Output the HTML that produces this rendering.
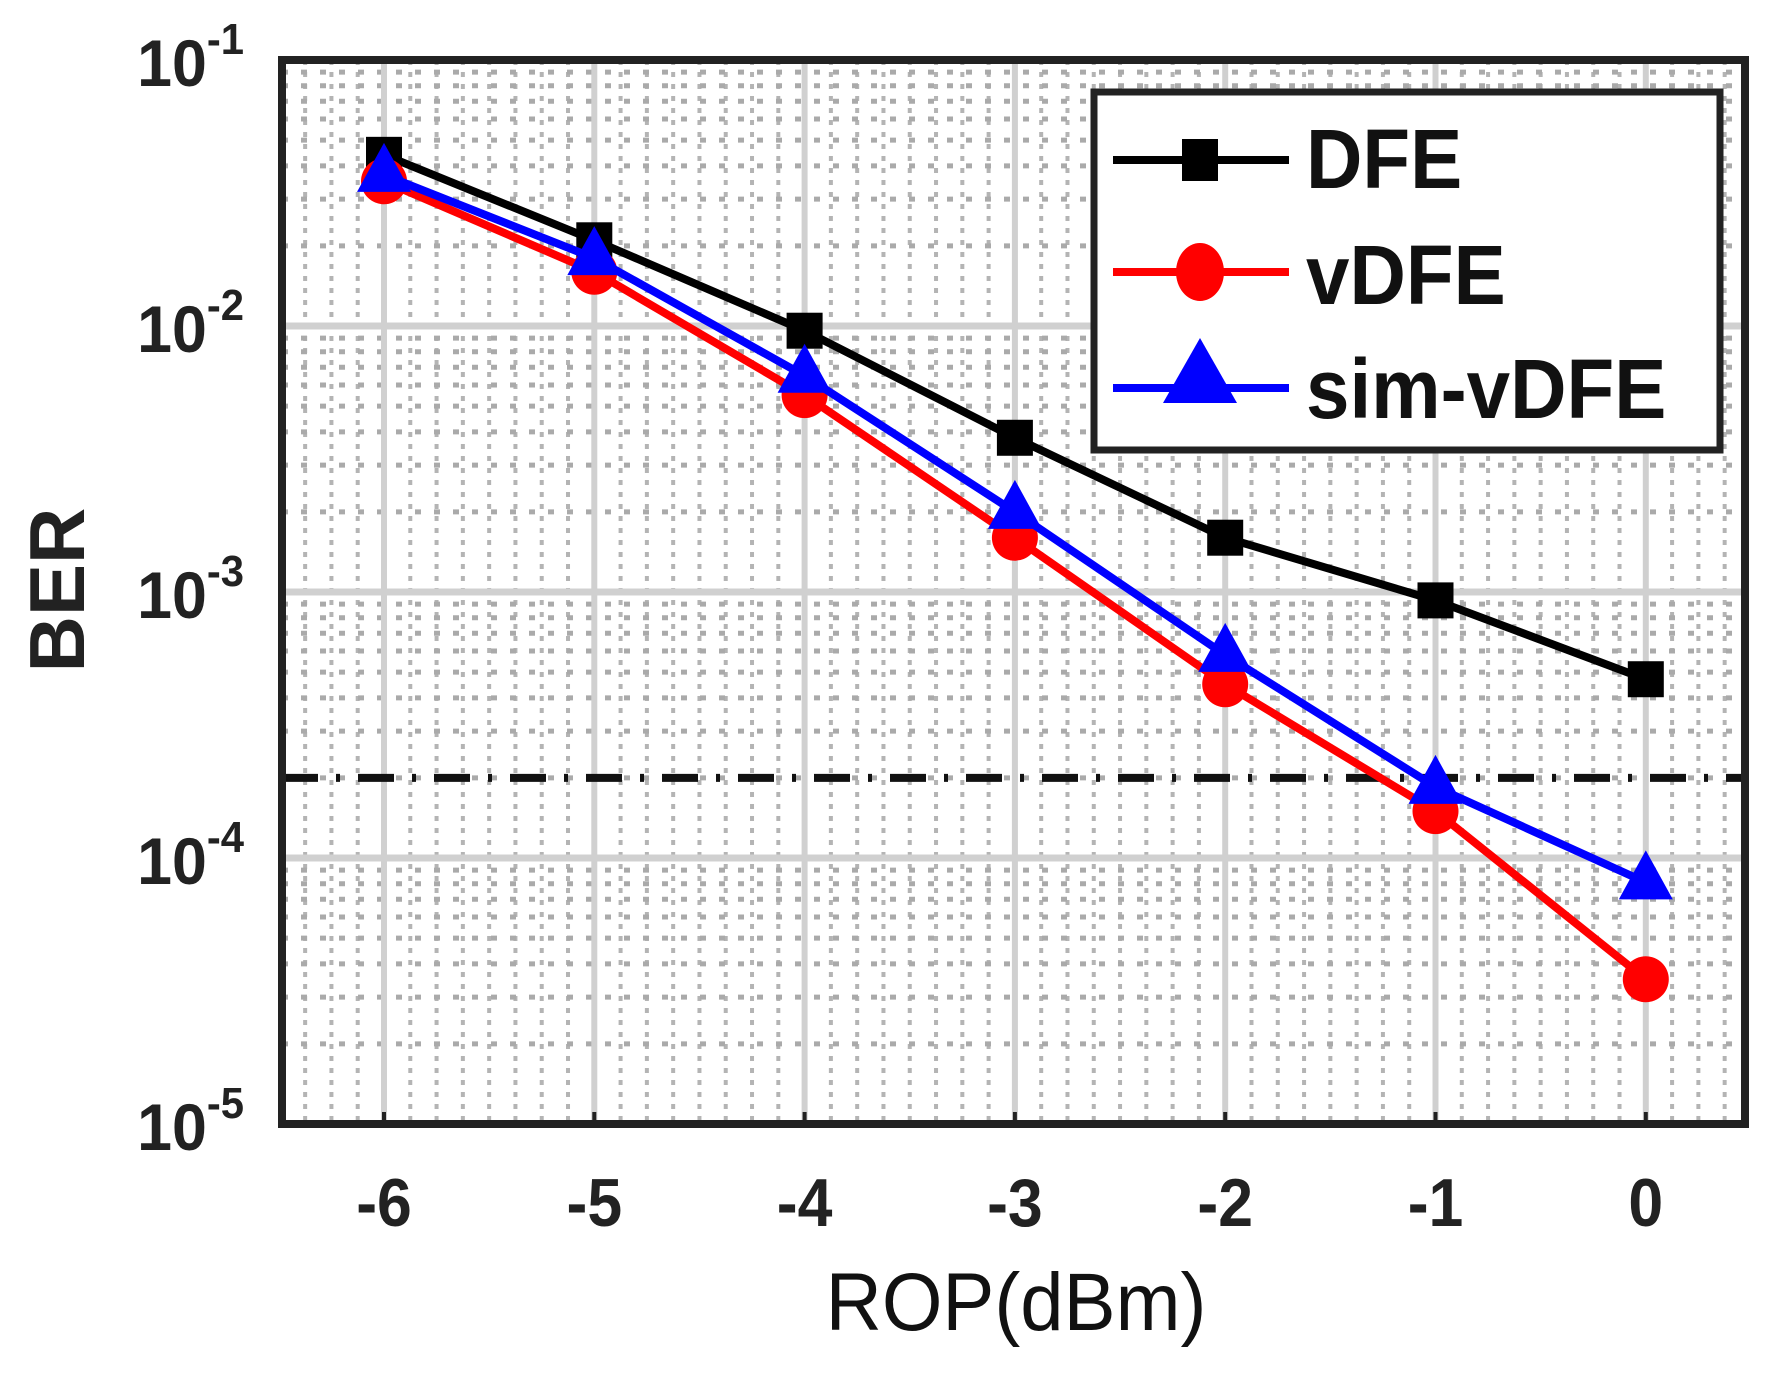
<!DOCTYPE html>
<html><head><meta charset="utf-8"><style>
html,body{margin:0;padding:0;background:#fff;}
svg{display:block;}
text{font-family:"Liberation Sans",Arial,sans-serif;}
</style></head><body>
<svg id="chart" width="1779" height="1373" viewBox="0 0 1779 1373" xmlns="http://www.w3.org/2000/svg">
<g id="grid"></g>
<g id="series"></g>
<rect x="282" y="60" width="1463" height="1064" fill="none" stroke="#222" stroke-width="8"/>
<g id="ticks"></g>
<text x="1016" y="1330" font-size="82" text-anchor="middle" fill="#111" transform="translate(1016,0) scale(0.95,1) translate(-1016,0)">ROP(dBm)</text>
<text x="0" y="0" font-size="78" font-weight="bold" text-anchor="middle" fill="#222" transform="translate(84,590) rotate(-90)">BER</text>
<g id="legend">
<rect x="1094" y="92" width="626" height="358" fill="#fff" stroke="#222" stroke-width="7"/>
</g>
</svg>
<script>
const xValues = [-6, -5, -4, -3, -2, -1, 0];
const dfeValues = [0.044, 0.021, 0.0096, 0.0038, 0.0016, 0.00093, 0.00047];
const vdfeValues = [0.035, 0.016, 0.0055, 0.0016, 0.00045, 0.00015, 0.000035];
const simValues = [0.037, 0.018, 0.0065, 0.0020, 0.00058, 0.000185, 0.000081];
const thresholdValue = 0.0002;
const xTickLabels = ["-6", "-5", "-4", "-3", "-2", "-1", "0"];
const yTickExps = [-1, -2, -3, -4, -5];

const X0 = 282, X1 = 1745, Y0 = 60, Y1 = 1124;
function xs(v){ return 384 + (v - (-6)) * 210.3; }
function ys(v){ return Y0 + (-1 - Math.log10(v)) * ((Y1 - Y0) / 4); }
const NS = "http://www.w3.org/2000/svg";
function mk(tag, attrs, parent){ const e = document.createElementNS(NS, tag); for (const k in attrs) e.setAttribute(k, attrs[k]); parent.appendChild(e); return e; }

const grid = document.getElementById('grid');
for (let u = -6.5; u <= 0.5; u += 0.125) {
  const x = xs(u);
  if (x <= X0 + 4 || x >= X1 - 4) continue;
  if (Math.abs(u - Math.round(u)) < 1e-6) continue;
  const l = mk('line', {x1: x, x2: x, y1: Y0, y2: Y1, stroke: '#b4b4b4', 'stroke-width': 4, 'stroke-dasharray': '5 7'}, grid);
  
  
}
for (let e = -5; e < -1; e++) {
  for (let m = 2; m <= 9; m++) {
    const y = ys(m * Math.pow(10, e));
    const l = mk('line', {x1: X0, x2: X1, y1: y, y2: y, stroke: '#aaaaaa', 'stroke-width': 5, 'stroke-dasharray': '6 13'}, grid);
    
    
  }
}
yTickExps.forEach(e => {
  const y = ys(Math.pow(10, e));
  const l = mk('line', {x1: X0, x2: X1, y1: y, y2: y, stroke: '#d0d0d0', 'stroke-width': 7}, grid);
  
  
});
xValues.forEach(v => {
  const x = xs(v);
  const l = mk('line', {x1: x, x2: x, y1: Y0, y2: Y1, stroke: '#d0d0d0', 'stroke-width': 6}, grid);
  
  
});

const ticks = document.getElementById('ticks');
xValues.forEach((v, i) => {
  const t = mk('text', {x: 0, y: 0, 'font-size': 68, 'font-weight': 'bold', 'text-anchor': 'middle', fill: '#222', transform: 'translate(' + xs(v) + ',1226) scale(0.92,1)'}, ticks);
  t.textContent = xTickLabels[i];
  
  
  const tk = mk('line', {x1: xs(v), x2: xs(v), y1: Y1, y2: Y1 - 12, stroke: '#222', 'stroke-width': 4}, ticks);
  
  
});
yTickExps.forEach(e => {
  const y = ys(Math.pow(10, e));
  const t = mk('text', {x: 0, y: 0, 'font-size': 66, 'font-weight': 'bold', 'text-anchor': 'end', fill: '#222', transform: 'translate(244,' + (y + 26) + ') scale(0.95,1)'}, ticks);
  
  
  const a = mk('tspan', {}, t); a.textContent = '10';
  const b = mk('tspan', {'font-size': 44, dy: -32}, t); b.textContent = String(e);
});

const series = document.getElementById('series');
const ty = ys(thresholdValue);
const th = mk('line', {x1: X0, x2: X1, y1: ty, y2: ty, stroke: '#111', 'stroke-width': 8, 'stroke-dasharray': '36 18 4 18'}, series);



function drawSeries(vals, color, name, marker){
  const pts = vals.map((v, i) => xs(xValues[i]) + ',' + ys(v)).join(' ');
  const pl = mk('polyline', {points: pts, fill: 'none', stroke: color, 'stroke-width': 8, 'stroke-linejoin': 'round'}, series);
  
  
  vals.forEach((v, i) => drawMarker(xs(xValues[i]), ys(v), color, marker, name + '-marker'));
}
function drawMarker(x, y, color, marker, name){
  let m;
  if (marker === 'square') m = mk('rect', {x: x - 18, y: y - 18, width: 36, height: 36, fill: color}, series);
  else if (marker === 'circle') m = mk('circle', {cx: x, cy: y, r: 23, fill: color}, series);
  else m = mk('polygon', {points: (x) + ',' + (y - 32) + ' ' + (x - 27) + ',' + (y + 17) + ' ' + (x + 27) + ',' + (y + 17), fill: color}, series);
  
  
  return m;
}
drawSeries(dfeValues, '#000', 'dfe', 'square');
drawSeries(vdfeValues, '#ff0000', 'vdfe', 'circle');
drawSeries(simValues, '#0000ff', 'sim-vdfe', 'triangle');

const legend = document.getElementById('legend');
const entries = [['DFE', '#000', 'square', 160, 188], ['vDFE', '#ff0000', 'circle', 272, 304], ['sim-vDFE', '#0000ff', 'triangle', 388, 418]];
entries.forEach(en => {
  const g = mk('g', {}, legend);
  
  
  const l = mk('line', {x1: 1113, x2: 1289, y1: en[3], y2: en[3], stroke: en[1], 'stroke-width': 8}, g);
  
  
  let m;
  if (en[2] === 'square') m = mk('rect', {x: 1182, y: en[3] - 21, width: 36, height: 42, fill: en[1]}, g);
  else if (en[2] === 'circle') m = mk('ellipse', {cx: 1200, cy: en[3], rx: 24, ry: 29, fill: en[1]}, g);
  else m = mk('polygon', {points: '1200,' + (en[3] - 50) + ' 1163,' + (en[3] + 15) + ' 1237,' + (en[3] + 15), fill: en[1]}, g);
  
  
  const t = mk('text', {x: 0, y: 0, 'font-size': 84, 'font-weight': 'bold', fill: '#111', transform: 'translate(1306,' + en[4] + ') scale(0.93,1)'}, g);
  t.textContent = en[0];
  
  
});
</script>
</body></html>
